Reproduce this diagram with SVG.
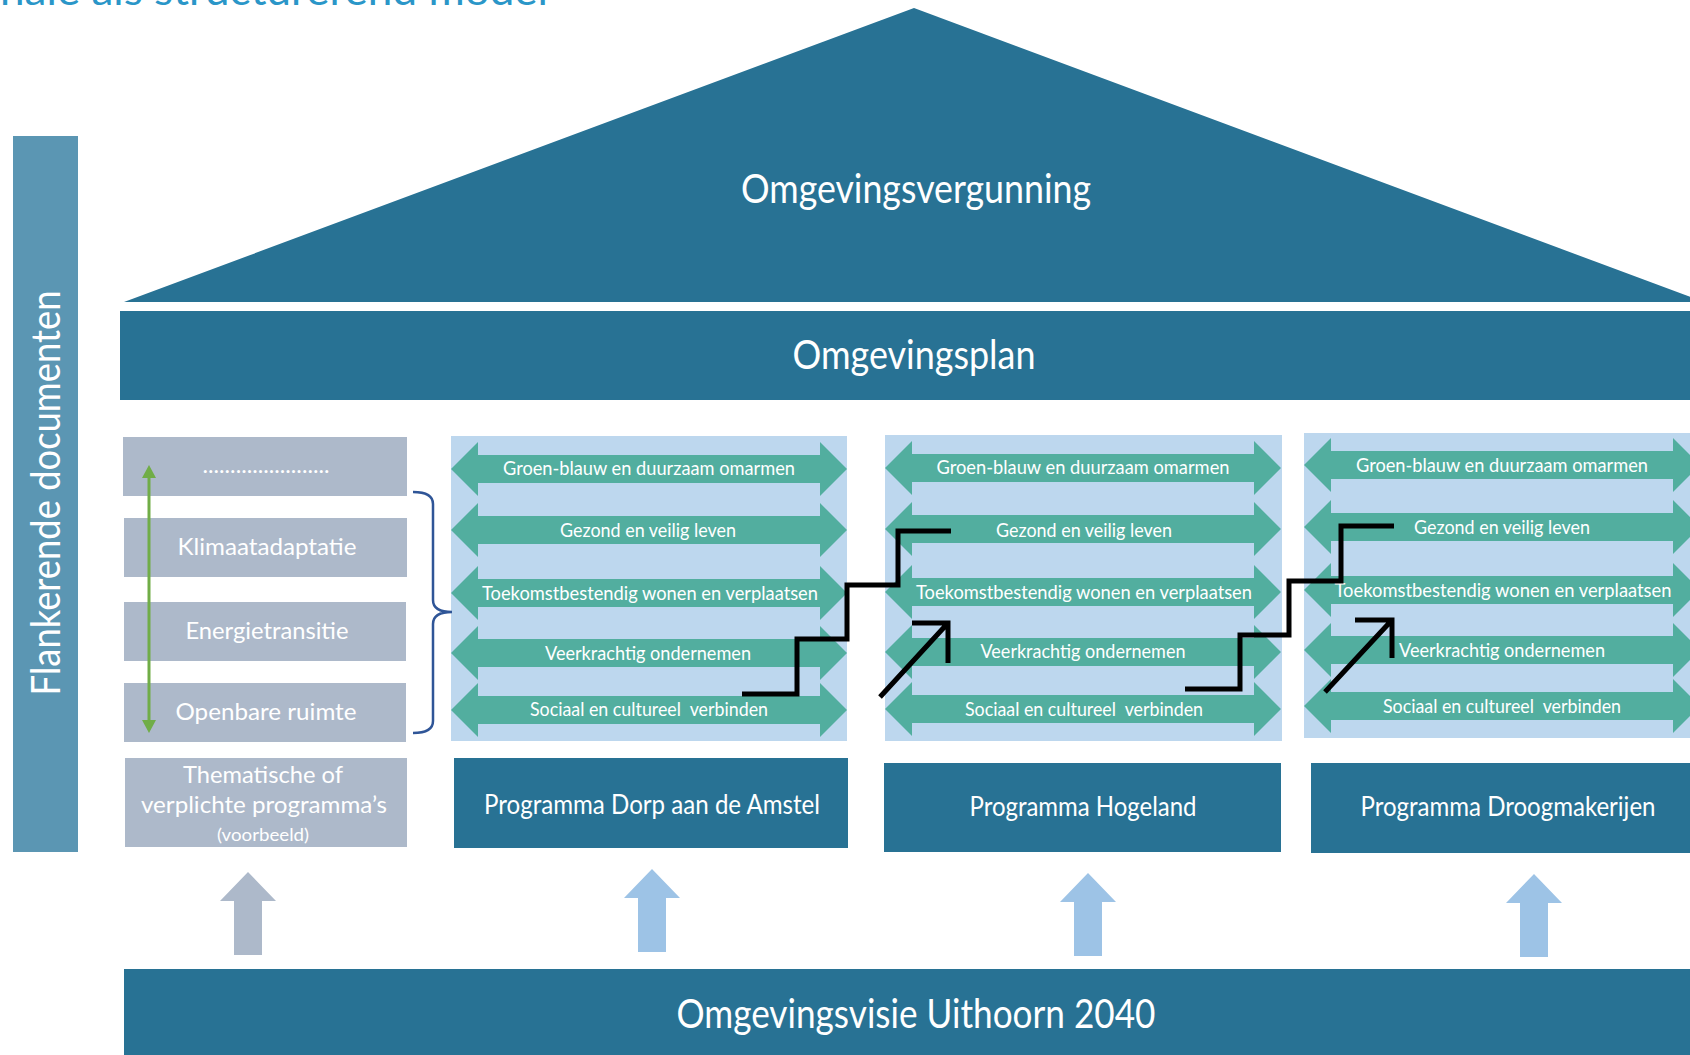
<svg xmlns="http://www.w3.org/2000/svg" xmlns:xlink="http://www.w3.org/1999/xlink" width="1690" height="1055" viewBox="0 0 1690 1055">
<defs>
<style>
.dark{fill:#287294}
.flank{fill:#5b96b3}
.gray{fill:#adb9ca}
.panel{fill:#bdd7ee}
.teal{fill:#52ae9f}
.upb{fill:#9dc3e6}
.upg{fill:#adb9ca}
.t{font-family:Lato,"Open Sans","Liberation Sans",sans-serif;fill:#ffffff;text-anchor:middle}
.big{font-size:40px}
.prog{font-size:26px}
.side{font-size:24px}
.lab{font-size:19px}
.stair{fill:none;stroke:#000000;stroke-width:5;stroke-linejoin:miter;stroke-linecap:butt}
</style>
<path id="dbl" d="M0,0 L27,-27 L27,-14 L369,-14 L369,-27 L396,0 L369,27 L369,14 L27,14 L27,27 Z"/>
<path id="up" d="M0,0 L28,29 L14,29 L14,83 L-14,83 L-14,29 L-28,29 Z"/>
</defs>
<rect width="1690" height="1055" fill="#ffffff"/>

<text x="0" y="5" font-family="Lato,'Open Sans','Liberation Sans',sans-serif" font-size="40" fill="#2a96c8" textLength="548" lengthAdjust="spacingAndGlyphs">nale als structurerend model</text>

<g id="omgevingsvergunning">
<polygon class="dark" points="914,8 124,302 1704,302"/>
<text class="t big" x="916" y="203" textLength="350" lengthAdjust="spacingAndGlyphs">Omgevingsvergunning</text>
</g>

<g id="omgevingsplan">
<rect class="dark" x="120" y="311" width="1570" height="89"/>
<text class="t big" x="914" y="369" textLength="243" lengthAdjust="spacingAndGlyphs">Omgevingsplan</text>
</g>

<g id="flankerende-documenten">
<rect class="flank" x="13" y="136" width="65" height="716"/>
<text class="t big" transform="translate(60,493) rotate(-90)" x="0" y="0" textLength="405" lengthAdjust="spacingAndGlyphs">Flankerende documenten</text>
</g>

<g id="thema-overig">
<rect class="gray" x="123" y="437" width="284" height="59"/>
<text class="t side" x="266" y="473" textLength="127" lengthAdjust="spacingAndGlyphs">.......................</text>
</g>
<g id="thema-klimaatadaptatie">
<rect class="gray" x="124" y="518" width="283" height="59"/>
<text class="t side" x="267" y="555" textLength="179" lengthAdjust="spacingAndGlyphs">Klimaatadaptatie</text>
</g>
<g id="thema-energietransitie">
<rect class="gray" x="124" y="602" width="282" height="59"/>
<text class="t side" x="267" y="639" textLength="163" lengthAdjust="spacingAndGlyphs">Energietransitie</text>
</g>
<g id="thema-openbare-ruimte">
<rect class="gray" x="124" y="683" width="282" height="59"/>
<text class="t side" x="266" y="720" textLength="181" lengthAdjust="spacingAndGlyphs">Openbare ruimte</text>
</g>
<g id="thematische-programmas">
<rect class="gray" x="125" y="758" width="282" height="89"/>
<text class="t side" x="263" y="783" textLength="160" lengthAdjust="spacingAndGlyphs">Thematische of</text>
<text class="t side" x="264" y="813" textLength="246" lengthAdjust="spacingAndGlyphs">verplichte programma’s</text>
<text class="t" x="263" y="841" font-size="17" textLength="92" lengthAdjust="spacingAndGlyphs">(voorbeeld)</text>
</g>

<g id="panel-dorp">
<rect class="panel" x="451" y="436" width="396" height="305"/>
<use href="#dbl" xlink:href="#dbl" class="teal" x="451" y="469"/>
<use href="#dbl" xlink:href="#dbl" class="teal" x="451" y="530"/>
<use href="#dbl" xlink:href="#dbl" class="teal" x="451" y="593"/>
<use href="#dbl" xlink:href="#dbl" class="teal" x="451" y="653"/>
<use href="#dbl" xlink:href="#dbl" class="teal" x="451" y="710"/>
<text class="t lab" x="649" y="475" textLength="292" lengthAdjust="spacingAndGlyphs">Groen-blauw en duurzaam omarmen</text>
<text class="t lab" x="648" y="537" textLength="176" lengthAdjust="spacingAndGlyphs">Gezond en veilig leven</text>
<text class="t lab" x="650" y="600" textLength="336" lengthAdjust="spacingAndGlyphs">Toekomstbestendig wonen en verplaatsen</text>
<text class="t lab" x="648" y="660" textLength="206" lengthAdjust="spacingAndGlyphs">Veerkrachtig ondernemen</text>
<text class="t lab" x="649" y="716" textLength="238" lengthAdjust="spacingAndGlyphs" xml:space="preserve">Sociaal en cultureel  verbinden</text>
</g>

<g id="panel-hogeland">
<rect class="panel" x="885" y="435" width="397" height="306"/>
<use href="#dbl" xlink:href="#dbl" class="teal" x="885" y="468"/>
<use href="#dbl" xlink:href="#dbl" class="teal" x="885" y="529"/>
<use href="#dbl" xlink:href="#dbl" class="teal" x="885" y="592"/>
<use href="#dbl" xlink:href="#dbl" class="teal" x="885" y="652"/>
<use href="#dbl" xlink:href="#dbl" class="teal" x="885" y="709"/>
<text class="t lab" x="1083" y="474" textLength="293" lengthAdjust="spacingAndGlyphs">Groen-blauw en duurzaam omarmen</text>
<text class="t lab" x="1084" y="537" textLength="176" lengthAdjust="spacingAndGlyphs">Gezond en veilig leven</text>
<text class="t lab" x="1084" y="599" textLength="336" lengthAdjust="spacingAndGlyphs">Toekomstbestendig wonen en verplaatsen</text>
<text class="t lab" x="1083" y="658" textLength="205" lengthAdjust="spacingAndGlyphs">Veerkrachtig ondernemen</text>
<text class="t lab" x="1084" y="716" textLength="238" lengthAdjust="spacingAndGlyphs" xml:space="preserve">Sociaal en cultureel  verbinden</text>
</g>

<g id="panel-droogmakerijen">
<rect class="panel" x="1304" y="433" width="397" height="305"/>
<use href="#dbl" xlink:href="#dbl" class="teal" x="1304" y="465"/>
<use href="#dbl" xlink:href="#dbl" class="teal" x="1304" y="527"/>
<use href="#dbl" xlink:href="#dbl" class="teal" x="1304" y="590"/>
<use href="#dbl" xlink:href="#dbl" class="teal" x="1304" y="650"/>
<use href="#dbl" xlink:href="#dbl" class="teal" x="1304" y="706"/>
<text class="t lab" x="1502" y="472" textLength="292" lengthAdjust="spacingAndGlyphs">Groen-blauw en duurzaam omarmen</text>
<text class="t lab" x="1502" y="534" textLength="176" lengthAdjust="spacingAndGlyphs">Gezond en veilig leven</text>
<text class="t lab" x="1503" y="597" textLength="337" lengthAdjust="spacingAndGlyphs">Toekomstbestendig wonen en verplaatsen</text>
<text class="t lab" x="1502" y="657" textLength="206" lengthAdjust="spacingAndGlyphs">Veerkrachtig ondernemen</text>
<text class="t lab" x="1502" y="713" textLength="238" lengthAdjust="spacingAndGlyphs" xml:space="preserve">Sociaal en cultureel  verbinden</text>
</g>

<g id="programma-dorp">
<rect class="dark" x="454" y="758" width="394" height="90"/>
<text class="t prog" x="652" y="814" textLength="336" lengthAdjust="spacingAndGlyphs">Programma Dorp aan de Amstel</text>
</g>
<g id="programma-hogeland">
<rect class="dark" x="884" y="763" width="397" height="89"/>
<text class="t prog" x="1083" y="816" textLength="227" lengthAdjust="spacingAndGlyphs">Programma Hogeland</text>
</g>
<g id="programma-droogmakerijen">
<rect class="dark" x="1311" y="763" width="379" height="90"/>
<text class="t prog" x="1508" y="816" textLength="295" lengthAdjust="spacingAndGlyphs">Programma Droogmakerijen</text>
</g>

<g id="omgevingsvisie">
<rect class="dark" x="124" y="969" width="1566" height="86"/>
<text class="t big" x="916" y="1028" textLength="479" lengthAdjust="spacingAndGlyphs">Omgevingsvisie Uithoorn 2040</text>
</g>

<g id="connectors">
<path d="M413,492 Q433,492 433,504 L433,600 Q433,612 452,612 Q433,612 433,624 L433,721 Q433,733 413,733" fill="none" stroke="#2f5597" stroke-width="2.5"/>
<line x1="149" y1="476" x2="149" y2="722" stroke="#70ad47" stroke-width="3"/>
<polygon points="149,465 142,478 156,478" fill="#70ad47"/>
<polygon points="149,733 142,720 156,720" fill="#70ad47"/>
<use href="#up" xlink:href="#up" class="upg" x="248" y="872"/>
<use href="#up" xlink:href="#up" class="upb" x="652" y="869"/>
<use href="#up" xlink:href="#up" class="upb" x="1088" y="873"/>
<use href="#up" xlink:href="#up" class="upb" x="1534" y="874"/>
<path class="stair" d="M742,694 H797 V639 H847 V585 H898 V531 H951"/>
<path class="stair" d="M1185,689 H1240 V635 H1289 V581 H1341 V526 H1394"/>
<path class="stair" d="M880,697 L948,623 M912,623 H948 V663"/>
<path class="stair" d="M1325,692 L1392,620 M1355,620 H1392 V658"/>
</g>
</svg>
